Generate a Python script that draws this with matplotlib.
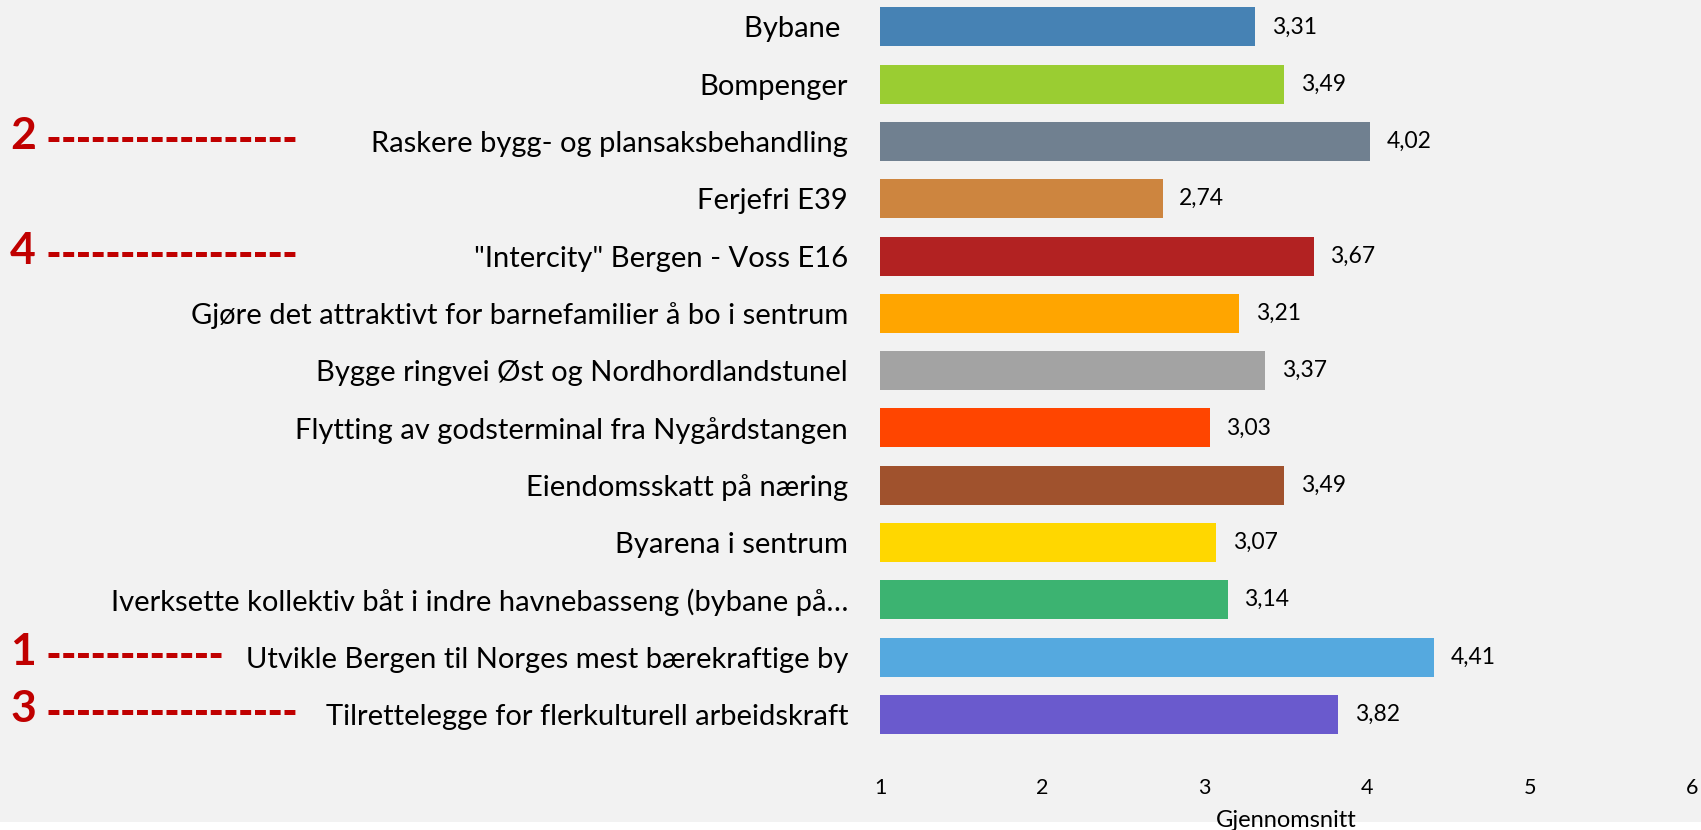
import matplotlib
matplotlib.use("Agg")
import matplotlib.pyplot as plt
import matplotlib.transforms as mtransforms
from matplotlib.patches import Rectangle

plt.rcParams["font.family"] = ["Lato", "DejaVu Sans"]
plt.rcParams["lines.scale_dashes"] = False

# Data
categories = [
    "Bybane ",
    "Bompenger",
    "Raskere bygg- og plansaksbehandling",
    "Ferjefri E39",
    "\"Intercity\" Bergen - Voss E16",
    "Gjøre det attraktivt for barnefamilier å bo i sentrum",
    "Bygge ringvei Øst og Nordhordlandstunel",
    "Flytting av godsterminal fra Nygårdstangen",
    "Eiendomsskatt på næring",
    "Byarena i sentrum",
    "Iverksette kollektiv båt i indre havnebasseng (bybane på…",
    "Utvikle Bergen til Norges mest bærekraftige by",
    "Tilrettelegge for flerkulturell arbeidskraft",
]
values = [3.31, 3.49, 4.02, 2.74, 3.67, 3.21, 3.37, 3.03, 3.49, 3.07, 3.14, 4.41, 3.82]
colors = ["#4682B4", "#9ACD32", "#708090", "#CD853F", "#B22222", "#FFA500", "#A3A3A3",
          "#FF4500", "#A0522D", "#FFD700", "#3CB371", "#55A9DF", "#6A5ACD"]

# rank annotations: category index -> rank, and number of dashes after it
rank_rows = [2, 4, 11, 12]
rank_nums = ["2", "4", "1", "3"]
rank_ndash = [17, 17, 12, 17]

W, H = 1701, 830
fig = plt.figure(figsize=(W / 100, H / 100), dpi=100, facecolor="#f2f2f2")
ax = fig.add_axes([880 / W, 1 - 743 / H, (1692 - 880) / W, 743 / H])
ax.set_facecolor("#f2f2f2")

ypos = list(range(len(categories)))
bars = ax.barh(ypos, [v - 1 for v in values], left=1, height=0.68, color=colors)
ax.bar_label(bars, labels=[f"{v:.2f}".replace(".", ",") for v in values],
             padding=12, fontsize=16.5)

ax.set_xlim(1, 6)
ax.set_ylim(12.5, -0.47)
ax.set_xticks([1, 2, 3, 4, 5, 6])
ax.set_yticks(ypos)
ax.set_yticklabels(categories, fontsize=21)
ax.tick_params(axis="y", length=0, pad=23)
ax.tick_params(axis="x", length=0, pad=25, labelsize=15.5)
for s in ax.spines.values():
    s.set_visible(False)

fig.text(1286 / W, 1 - 810 / H, "Gjennomsnitt", ha="center", va="top", fontsize=17, zorder=5)
fig.patches.append(Rectangle((0, 0), 1, 8 / H, transform=fig.transFigure,
                             facecolor="white", edgecolor="none", zorder=1))

# dashed leader lines (dash 10.9 px, gap 3.85 px)
dash_px, gap_px = 10.9, 3.85
trans = mtransforms.blended_transform_factory(fig.transFigure, ax.transData)
for row, num, n in zip(rank_rows, rank_nums, rank_ndash):
    fig.text(23 / W, row - 0.09, num, transform=trans, ha="center", va="center",
             fontsize=32, fontweight="bold", color="#C00000")
    xend = 48 + (n - 1) * (dash_px + gap_px) + dash_px - 0.3
    ln = plt.Line2D([48 / W, xend / W], [row - 0.035, row - 0.035], transform=trans,
                    color="#C00000", linewidth=3.6,
                    linestyle=(0, (dash_px * 0.72, gap_px * 0.72)))
    fig.lines.append(ln)

fig.savefig("out.png", dpi=100, facecolor=fig.get_facecolor())
